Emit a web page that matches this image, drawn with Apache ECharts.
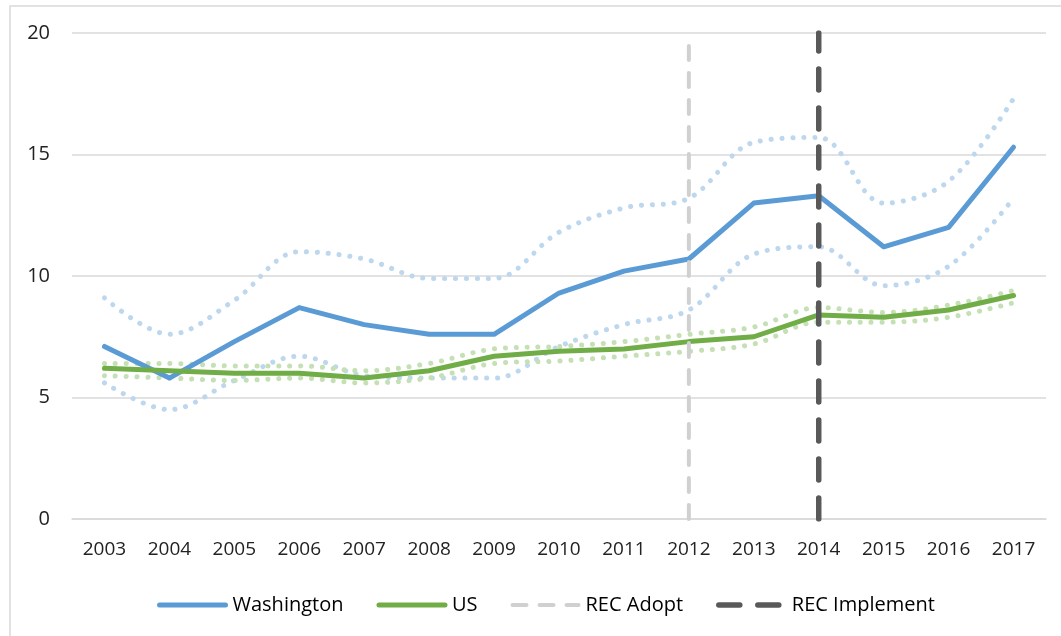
<!DOCTYPE html>
<html lang="en">
<head>
	<meta charset="UTF-8">
	<title>Washington vs US</title>
	<script src="https://cdn.jsdelivr.net/npm/echarts@6/dist/echarts.min.js"></script>
	<style>
		html, body { margin:0; padding:0; background:#fff; }
		#chart { width:1061px; height:636px; }
	</style>
</head>
<body>
	<div id="chart"></div>

	<script>
	/* data */
	var years = ['2003','2004','2005','2006','2007','2008','2009','2010','2011','2012','2013','2014','2015','2016','2017'];
	var yTicks = [0, 5, 10, 15, 20];

	var washington = [7.1, 5.8, 7.3, 8.7, 8.0, 7.6, 7.6, 9.3, 10.2, 10.7, 13.0, 13.3, 11.2, 12.0, 15.3];
	var washingtonHi = [9.1, 7.6, 9.0, 11.0, 10.7, 9.9, 9.9, 11.8, 12.8, 13.2, 15.5, 15.7, 13.0, 13.9, 17.3];
	var washingtonLo = [5.6, 4.5, 5.7, 6.7, 5.9, 5.8, 5.8, 7.1, 8.0, 8.6, 10.9, 11.2, 9.6, 10.4, 13.2];

	var us = [6.2, 6.1, 6.0, 6.0, 5.8, 6.1, 6.7, 6.9, 7.0, 7.3, 7.5, 8.4, 8.3, 8.6, 9.2];
	var usHi = [6.4, 6.4, 6.3, 6.3, 6.1, 6.4, 7.0, 7.1, 7.3, 7.6, 7.9, 8.7, 8.5, 8.8, 9.4];
	var usLo = [5.9, 5.8, 5.7, 5.8, 5.6, 5.8, 6.4, 6.5, 6.7, 6.9, 7.2, 8.1, 8.1, 8.3, 8.9];

	var recAdoptYear = '2012';
	var recImplementYear = '2014';

	var blue = '#5b9bd5', green = '#70ad47';
	var blueLight = '#bdd7ee', greenLight = '#c5e0b4';
	var font = '"Open Sans", "Noto Sans", sans-serif';

	// dotted confidence lines
	function band(name, values, color) {
		return {
			name: name,
			type: 'line',
			data: values,
			symbol: 'none',
			smooth: 0.35,
			silent: true,
			z: 2,
			lineStyle: { color: color, width: 5, type: [0.1, 10.8], cap: 'round' }
		};
	}

	// vertical dashed marker lines
	function vline(name, year, color, width, dash) {
		return {
			name: name,
			type: 'line',
			data: [[year, yTicks[0]], [year, yTicks[yTicks.length - 1]]],
			symbol: 'none',
			z: 4,
			lineStyle: { color: color, width: width, type: dash, cap: 'round' },
			itemStyle: { color: color }
		};
	}

	var chart = echarts.init(document.getElementById('chart'), null, { renderer: 'canvas' });
	var option = {
		animation: false,
		backgroundColor: '#fff',
		graphic: [{
			type: 'rect',
			shape: { x: 10, y: 6, width: 1070, height: 660 },
			style: { fill: 'none', stroke: '#d9d9d9', lineWidth: 1.5 },
			silent: true
		}],
		legend: {
			left: 152,
			top: 590,
			itemWidth: 66,
			itemHeight: 14,
			itemGap: 33,
			itemStyle: { opacity: 0 },
			lineStyle: { width: 'inherit' },
			textStyle: { fontFamily: font, fontSize: 20, color: '#000', padding: [0, 0, 0, 2] },
			data: ['Washington', 'US', 'REC Adopt', 'REC Implement']
		},
		grid: { left: 72, right: 15, top: 33, bottom: 117 },
		xAxis: {
			type: 'category',
			data: years,
			axisLine: { lineStyle: { color: '#d9d9d9', width: 1.5 } },
			axisTick: { show: false },
			axisLabel: { fontFamily: font, fontSize: 19, color: '#222', margin: 21 }
		},
		yAxis: {
			type: 'value',
			min: yTicks[0],
			max: yTicks[yTicks.length - 1],
			interval: 5,
			axisLine: { show: false },
			axisTick: { show: false },
			splitLine: { lineStyle: { color: '#d9d9d9', width: 1.5 } },
			axisLabel: { fontFamily: font, fontSize: 20, color: '#222', margin: 22 }
		},
		series: [
			band('Washington upper', washingtonHi, blueLight),
			band('Washington lower', washingtonLo, blueLight),
			band('US upper', usHi, greenLight),
			band('US lower', usLo, greenLight),
			{
				name: 'Washington',
				type: 'line',
				data: washington,
				symbol: 'none',
				z: 3,
				lineStyle: { color: blue, width: 5, cap: 'round', join: 'round' },
				itemStyle: { color: blue }
			},
			{
				name: 'US',
				type: 'line',
				data: us,
				symbol: 'none',
				z: 3,
				lineStyle: { color: green, width: 5, cap: 'round', join: 'round' },
				itemStyle: { color: green }
			},
			vline('REC Adopt', recAdoptYear, '#d0d0d0', 4, [14, 13]),
			vline('REC Implement', recImplementYear, '#595959', 5.5, [21, 18])
		]
	};
	chart.setOption(option);
	</script>
</body>
</html>
